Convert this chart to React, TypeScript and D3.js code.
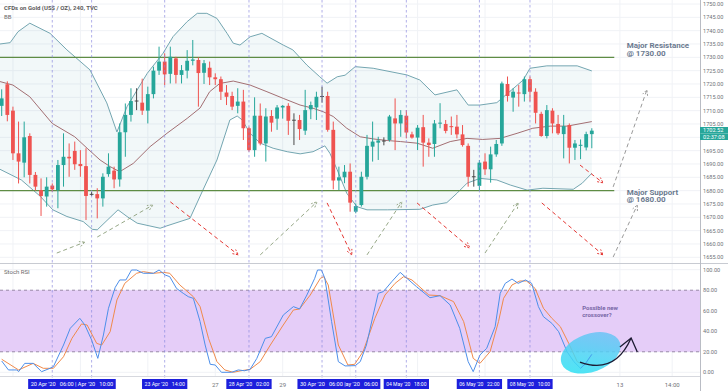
import React from 'react'
import * as d3 from 'd3'

const title = 'CFDs on Gold (US$ / OZ), 240, TVC'
const lastPrice = '1702.52'
const countdown = '02:37:08'

// 4h candles, [open, high, low, close]
const ohlc: number[][] = [
  [1711.8, 1718, 1708, 1714.6], [1719.9, 1721, 1706, 1708.4], [1710, 1711.5, 1691.5, 1694], [1694, 1705.9, 1682.7, 1690.9],
  [1690.5, 1705.9, 1685, 1700], [1700.5, 1701.5, 1682.7, 1685.9], [1685.9, 1687, 1680, 1681.5], [1680.2, 1684.6, 1670.5, 1678],
  [1677.8, 1685, 1674, 1681.5], [1681.9, 1682.7, 1679.6, 1680.5], [1680.2, 1691.5, 1673.4, 1689.6], [1689.6, 1701.5, 1681.5, 1692.7],
  [1692.7, 1697.7, 1685.2, 1692.1], [1694.9, 1698.4, 1687.8, 1689.9], [1690, 1695.2, 1685.2, 1689.2], [1689.2, 1695.9, 1669, 1678],
  [1678.7, 1679.5, 1678, 1678.8], [1678.7, 1680.9, 1669.6, 1677.1], [1677.1, 1686.5, 1674, 1685.2], [1686.2, 1694, 1685.2, 1689],
  [1687.5, 1689, 1680.9, 1684.2], [1684.2, 1705.2, 1681.5, 1701.9], [1701.9, 1712.7, 1692.7, 1708.4], [1708.4, 1718.4, 1705.9, 1713.6],
  [1713.7, 1718.4, 1710.2, 1713.8], [1713, 1722, 1708.4, 1710], [1710, 1719, 1705.2, 1716.2], [1716.2, 1726.5, 1714.6, 1725],
  [1725, 1734, 1723.4, 1728.4], [1728.4, 1731.5, 1719.6, 1723.6], [1723.8, 1734, 1720.2, 1730.2], [1729.6, 1730.2, 1720.2, 1723.4],
  [1723.4, 1727.1, 1720.2, 1725.2], [1725, 1732.7, 1722.1, 1728.7], [1728.7, 1736.5, 1727, 1729.2], [1729, 1730, 1711.5, 1724.1],
  [1724.2, 1729, 1720, 1727.8], [1726.1, 1728.4, 1719.6, 1722.5], [1722.5, 1724, 1719.6, 1721.8], [1721.8, 1722.8, 1714, 1717.1],
  [1716.8, 1719.6, 1712.1, 1715.2], [1715.5, 1717.1, 1710.2, 1711.5], [1711.8, 1718.4, 1709, 1713.4], [1713.4, 1717.8, 1699, 1703.4],
  [1703.4, 1704, 1694.6, 1695.2], [1695.2, 1715, 1692.7, 1708.1], [1708.1, 1712.7, 1697, 1697.7], [1697.7, 1710.9, 1690.9, 1707.8],
  [1708, 1710.2, 1702.1, 1705.5], [1707, 1712.1, 1702.8, 1711.2], [1711.2, 1712.1, 1707, 1711.8], [1711.8, 1712.8, 1700.9, 1706.2],
  [1706.5, 1709, 1697.1, 1706.6], [1706.5, 1708.4, 1699, 1703.1], [1702.5, 1717.8, 1700.9, 1710.2], [1710.5, 1713.4, 1706.8, 1712.1],
  [1711.2, 1717.1, 1706.5, 1715.2], [1715.5, 1719, 1713, 1715.5], [1715.5, 1717.1, 1702.1, 1702.8], [1702.8, 1705.9, 1680.5, 1683.8],
  [1683.8, 1689, 1680.2, 1685], [1685, 1689.6, 1682.8, 1687.1], [1687.1, 1690.2, 1672.1, 1675.5], [1672.1, 1675.2, 1671.5, 1674.2],
  [1674.6, 1687.1, 1674, 1685.2], [1685.2, 1700.9, 1684.2, 1696.8], [1696.5, 1705.9, 1690.9, 1698.4], [1698, 1700.2, 1691.5, 1698.8],
  [1698.8, 1700, 1697, 1698.6], [1699, 1708.4, 1698.4, 1707.8], [1707.1, 1714.6, 1695.2, 1705.2], [1705.2, 1710.2, 1700.2, 1708.4],
  [1708.1, 1710.2, 1699.6, 1701.8], [1701.1, 1702.1, 1699.5, 1699.9], [1699.9, 1704.6, 1695.2, 1703.6], [1703.8, 1708.4, 1689, 1698],
  [1698, 1699.6, 1692.7, 1697.1], [1697.5, 1706.5, 1692.7, 1705.2], [1705.2, 1712.8, 1703.4, 1705.5], [1705, 1706.5, 1701.5, 1702.4],
  [1704.2, 1707.8, 1700.9, 1703.8], [1704, 1708.4, 1699.6, 1701.1], [1701.1, 1704.6, 1696.5, 1697.1], [1696.8, 1697.7, 1681.5, 1685.2],
  [1685.2, 1687.8, 1681.5, 1685.4], [1681.8, 1691.5, 1680.2, 1690.5], [1690.9, 1694, 1685.9, 1688], [1688, 1696.5, 1683, 1693.6],
  [1693.6, 1699, 1692.7, 1697.5], [1697.7, 1720.9, 1696.8, 1720.2], [1720, 1722.8, 1713.4, 1715.5], [1714.9, 1718.4, 1709.6, 1717.1],
  [1716.8, 1719.6, 1711.5, 1716.5], [1716.2, 1722.8, 1713.4, 1721.8], [1721.8, 1722.8, 1713.4, 1717.1], [1717.1, 1718.4, 1705.2, 1709.2],
  [1708.8, 1709.6, 1700.2, 1700.5], [1700.5, 1712.1, 1699.6, 1710.2], [1710, 1710.9, 1701.5, 1705.2], [1705, 1708.4, 1700.9, 1701.5],
  [1701.2, 1708.4, 1692.1, 1704.2], [1704.6, 1705.2, 1690.2, 1696.1], [1696.1, 1699, 1691.5, 1697.7], [1696.8, 1699.2, 1691.8, 1697.2],
  [1696.2, 1702.1, 1695.1, 1701.2], [1701.2, 1703.4, 1695.9, 1702.5],
]

// Bollinger bands read as [bar index, price]
const bbUpper = [
  [-0.3, 1735], [1.5, 1735.5], [2.9, 1739.6], [5, 1742.8], [8.6, 1739], [11.6, 1732.8], [15.7, 1725.3], [18.7, 1712.9],
  [20.5, 1702], [22.3, 1711.5], [25.9, 1724], [28.7, 1731.5], [30.5, 1737.8], [33, 1743.4], [34.8, 1746.5], [36.5, 1746.5],
  [38.3, 1744.6], [40.1, 1739], [41.2, 1735.3], [42.4, 1734.6], [44.2, 1737.7], [46.3, 1739], [50.1, 1734.6], [51.8, 1732.8],
  [54.3, 1727.1], [56.6, 1722.7], [57.9, 1720.3], [59.7, 1722.7], [61.1, 1723.3], [62.9, 1726.5], [66.1, 1725.9], [72.1, 1723.4],
  [74.4, 1721.5], [77.1, 1715.9], [81, 1717.8], [83, 1712.1], [85.1, 1712.1], [88.1, 1713], [92.8, 1721.5], [94, 1725.9],
  [97, 1726.8], [102.4, 1726.8], [105, 1724.9],
]
const bbMiddle = [
  [-0.3, 1720.9], [2, 1719.6], [5, 1715.2], [9, 1705.2], [13, 1700.2], [15.2, 1695.9], [17.5, 1691.5], [19.3, 1689],
  [21, 1687.1], [23.4, 1690.2], [26.4, 1696.5], [29.4, 1701.5], [33, 1707.1], [35.3, 1711], [37, 1717.1], [38.8, 1720.2],
  [41.2, 1721.1], [44.2, 1719.6], [47.2, 1717.1], [50.1, 1714.6], [53.1, 1712.1], [55.4, 1710.9], [57.2, 1709.6], [59, 1707.8],
  [61.4, 1703.4], [63.8, 1700.2], [66.1, 1699.4], [68.6, 1698.8], [71, 1698.4], [73.9, 1697.8], [76.7, 1695.9], [79.8, 1698.4],
  [82.8, 1699.6], [85.6, 1699.2], [88.7, 1699.6], [91.7, 1701.5], [94.5, 1703.4], [97.6, 1704.2], [100.6, 1704.2], [105, 1705.9],
]
const bbLower = [
  [-0.3, 1688], [3.5, 1684], [6.8, 1678], [9.1, 1672.8], [11.6, 1670.3], [14.5, 1668.4], [16.1, 1665.5], [17, 1665.3],
  [20.7, 1672.8], [22.3, 1670.3], [24.1, 1667.8], [28.2, 1665.9], [29.4, 1666.8], [33.5, 1669.6], [35.8, 1680.2], [38.3, 1691.5],
  [40.6, 1706.5], [41.9, 1708], [42.8, 1706.5], [44.2, 1701.5], [46, 1697.8], [48.3, 1695.9], [50.8, 1694.6], [53.1, 1693.8],
  [55.4, 1694.6], [57.5, 1696.8], [58.4, 1694], [59.7, 1687.8], [61.4, 1679], [63.2, 1674], [65, 1672.8], [68.6, 1672.8],
  [74.4, 1673], [76.7, 1674.6], [79.2, 1675.5], [81, 1679], [82.8, 1682.8], [85.1, 1684.6], [88.1, 1684], [90.5, 1682.1],
  [93.5, 1680.2], [96.3, 1680.9], [101.7, 1680.5], [103.3, 1682.8], [105, 1686.5],
]

// Stoch RSI read as [bar index, value]
const stochK = [
  [0, 11], [1.2, 2.3], [2.7, 2.3], [3, 0.6], [4.1, 8.7], [5.6, 8.7], [7.1, 0.6], [8.6, 3.9], [9.2, 5.5], [11, 26.6],
  [12.2, 42.9], [13.9, 52.6], [14.8, 46.1], [16, 31.5], [17.1, 13.6], [18.1, 36.4], [19, 62.4], [20.2, 82.8], [21, 90],
  [22.1, 90], [23.1, 99.7], [24, 99.7], [25.2, 96.5], [27, 96.5], [28, 99.7], [29.1, 94.8], [29.9, 93.2], [31.1, 81.8],
  [32.3, 77], [33.2, 73.7], [34.1, 72.1], [35.3, 49.4], [36.2, 26.6], [37.1, 7.8], [38, 7.1], [39.1, 0], [40.9, 0],
  [42.1, 2.3], [43.2, 1.5], [44.2, 2.9], [45.4, 13.6], [46.9, 33.1], [48, 34.7], [50.1, 55.8], [51.9, 64], [53, 61.7],
  [54.3, 75.3], [55.7, 91.6], [56.2, 99.7], [56.9, 99.7], [57.5, 91.6], [58.7, 49.4], [59.9, 10.4], [61.1, 6.2], [62.9, 6.5],
  [63.8, 10.4], [64.9, 26.6], [66.1, 55.8], [67, 77], [67.9, 78.6], [69.4, 88.3], [70.9, 97.4], [72.1, 91.6], [73.8, 83.5],
  [76.2, 72.7], [78, 74.7], [79.8, 65.6], [81.5, 42.9], [83, 10.4], [83.9, 0.6], [85.1, 16.9], [86.3, 23.4], [87.8, 44.5],
  [88.7, 77], [89.6, 86.7], [90.8, 90.9], [91.9, 86.7], [93.2, 90], [94.3, 86.7], [95.5, 64], [96.4, 54.2], [97.9, 47.7],
  [99.1, 39.6], [100.6, 20.1], [101.8, 10.4], [103, 3.9], [103.9, 8.7], [105, 17.5],
]
const stochD = [
  [0, 12.7], [3, 2.3], [5.6, 8.7], [7.4, 3.9], [9.2, 3.9], [11, 15.2], [12.5, 33.1], [14.2, 47.1], [15.2, 46.1],
  [16.9, 28.2], [17.8, 26.6], [19.3, 39.6], [20.5, 70.5], [21.9, 86.7], [24, 96.5], [25.2, 98.1], [27, 96.5], [28.8, 97.4],
  [29.9, 96.5], [31.7, 85.1], [34.1, 73.7], [35.3, 64], [36.8, 33.1], [38.3, 10.4], [39.7, 2.3], [41.2, 0], [42.4, 1.3],
  [44.2, 2.9], [46, 10.4], [47.8, 26.6], [50.1, 46.1], [51.9, 60.7], [53, 61.7], [54.9, 75.3], [56.7, 91.6], [57.3, 93.2],
  [58.1, 85.1], [59.9, 26.6], [61.6, 7.1], [62.8, 7.8], [64.3, 20.1], [66.4, 52.6], [68.2, 75.3], [70, 86.7], [71.5, 93.2],
  [73, 90], [76, 75.3], [78, 74.7], [80.4, 68.9], [82.2, 49.4], [83.9, 13.6], [85.1, 8.7], [86.9, 20.1], [88.4, 49.4],
  [89.3, 72.1], [90.8, 85.1], [92.2, 89], [93.4, 89], [94.9, 81.8], [96.4, 62.4], [97.9, 52.6], [99.4, 44.5], [100.9, 28.2],
  [102.4, 10.4], [103.6, 7.1], [104.5, 8.7],
]

const priceTicks = [1750, 1745, 1740, 1735, 1730, 1725, 1720, 1715, 1710, 1705, 1700, 1695, 1690, 1685, 1680, 1675, 1670, 1665, 1660, 1655]
const stochTicks = [100, 80, 60, 40, 20, 0]
const levels = [
  { price: 1730, lines: ['Major Resistance', '@ 1730.00'] },
  { price: 1680, lines: ['Major Support', '@ 1680.00'] },
]
const markerBars = [9, 16, 29, 44, 57, 63, 72, 85, 94]
const timeBoxes = [
  { at: [9, 16], text: "20 Apr '20   06:00 | Apr '20   10:00" },
  { at: [29], text: "23 Apr '20   14:00" },
  { at: [44], text: "28 Apr '20   02:00" },
  { at: [57, 63], text: "30 Apr '20   06:00 |ay '20   06:00" },
  { at: [72], text: "04 May '20   18:00" },
  { at: [85], text: "06 May '20   22:00" },
  { at: [94], text: "08 May '20   10:00" },
]
const dayLabels = [
  { at: 38, text: '27' },
  { at: 50, text: '29' },
  { at: 110, text: '13' },
  { at: 119.3, text: '14:00' },
]
const gridBars = [2, 14, 26, 38, 50, 62, 74, 86, 98, 110, 119.3]
// drawn arrows: [bar, price, bar, price, kind]
const arrows: [number, number, number, number, string][] = [
  [9.8, 1656.6, 14.8, 1660.7, 'up'],
  [17, 1662.6, 26.9, 1674.6, 'up'],
  [30, 1675.8, 42.1, 1655.9, 'down'],
  [46, 1655.9, 56.1, 1675.8, 'up'],
  [57.9, 1675.4, 62.3, 1655.9, 'down'],
  [65, 1655.9, 71.2, 1675.8, 'up'],
  [73.9, 1675.4, 83.3, 1658.5, 'down'],
  [86, 1656.6, 91.9, 1675.4, 'up'],
  [96.1, 1675.4, 107, 1655.9, 'down'],
  [102.9, 1689.6, 107, 1682.9, 'down'],
  [108.8, 1681.4, 114.8, 1717.8, 'future'],
  [108.8, 1655.1, 113.1, 1674.6, 'future'],
]
const arrowColors: Record<string, string> = { up: '#97a887', down: '#e53935', future: '#9a9a9a' }

const W = 728
const H = 391
const plotR = 700
const font = 'Roboto, "Liberation Sans", sans-serif'

export default function App() {
  const x = d3.scaleLinear().domain([0, 105]).range([1.7, 591.8])
  const yP = d3.scaleLinear().domain([1655, 1750]).range([257.3, 4])
  const yS = d3.scaleLinear().domain([0, 100]).range([372.3, 269.7])

  const pLine = d3.line<number[]>().x(d => x(d[0])).y(d => yP(d[1]))
  const sLine = d3.line<number[]>().x(d => x(d[0])).y(d => yS(d[1]))
  const bandPts = [...bbUpper, ...bbLower.slice().reverse()]
  const bandPath = pLine(bandPts) + 'Z'

  const bw = 3.8

  const arrowHead = (x1: number, y1: number, x2: number, y2: number) => {
    const a = Math.atan2(y2 - y1, x2 - x1)
    const L = 6
    const p1 = [x2 - L * Math.cos(a - 0.45), y2 - L * Math.sin(a - 0.45)]
    const p2 = [x2 - L * Math.cos(a + 0.45), y2 - L * Math.sin(a + 0.45)]
    return `M${p1[0]},${p1[1]}L${x2},${y2}L${p2[0]},${p2[1]}`
  }

  // possible crossover arrow in stoch pane
  const cs = [x(102.9), yS(10)]
  const cc = [x(109.1), yS(-2.6)]
  const ce = [x(112), yS(33.4)]

  return (
    <svg width={W} height={H} style={{ position: 'absolute', left: 0, top: 0, background: '#fff' }} fontFamily={font}>
      <defs>
        <clipPath id="pricePane"><rect x={0} y={0} width={plotR} height={263} /></clipPath>
        <clipPath id="stochPane"><rect x={0} y={263} width={plotR} height={113} /></clipPath>
        <linearGradient id="ell" x1="0" y1="1" x2="1" y2="0">
          <stop offset="0" stopColor="#22e6f2" />
          <stop offset="1" stopColor="#78bdf6" />
        </linearGradient>
      </defs>
      <rect x={0} y={0} width={W} height={H} fill="#fff" />

      {/* grids */}
      <g stroke="#f0f2f6" strokeWidth={1}>
        {priceTicks.map(t => <line key={t} x1={0} x2={plotR} y1={yP(t)} y2={yP(t)} />)}
        {stochTicks.map(t => <line key={'s' + t} x1={0} x2={plotR} y1={yS(t)} y2={yS(t)} />)}
        {gridBars.map(b => <line key={'g' + b} x1={x(b)} x2={x(b)} y1={0} y2={376} />)}
      </g>

      <g clipPath="url(#pricePane)">
        <path d={bandPath} fill="#4fa3b5" fillOpacity={0.075} />
        <path d={pLine(bbUpper) || ''} fill="none" stroke="#74a6b1" strokeWidth={1} />
        <path d={pLine(bbLower) || ''} fill="none" stroke="#74a6b1" strokeWidth={1} />
        <path d={pLine(bbMiddle) || ''} fill="none" stroke="#a36f73" strokeWidth={1} />

        {levels.map(l => (
          <line key={l.price} x1={0} x2={x(109)} y1={yP(l.price)} y2={yP(l.price)} stroke="#5e8c44" strokeWidth={1.3} />
        ))}

        {ohlc.map((c, i) => {
          const [o, h, l, cl] = c
          const doji = Math.abs(cl - o) < 0.25
          const col = doji ? '#4a4a4a' : cl >= o ? '#26a69a' : '#ef5350'
          const top = yP(Math.max(o, cl))
          const bh = Math.max(1, yP(Math.min(o, cl)) - top)
          return (
            <g key={i}>
              <line x1={x(i)} x2={x(i)} y1={yP(h)} y2={yP(l)} stroke={col} strokeWidth={1} />
              <rect x={x(i) - bw / 2} y={top} width={bw} height={bh} fill={col} />
            </g>
          )
        })}

        {arrows.map((a, k) => {
          const x1 = x(a[0]), y1 = yP(a[1]), x2 = x(a[2]), y2 = yP(a[3])
          const col = arrowColors[a[4]]
          return (
            <g key={k} stroke={col} fill="none" strokeWidth={1}>
              <line x1={x1} y1={y1} x2={x2} y2={y2} strokeDasharray="4 3" />
              <path d={arrowHead(x1, y1, x2, y2)} strokeDasharray="2 1.5" />
            </g>
          )
        })}
      </g>

      {levels.map(l => (
        <text key={'t' + l.price} x={x(111.2)} y={yP(l.price) - (l.price > 1700 ? 9 : -4)} fontSize={8} fontWeight="bold" fill="#6b7a8f">
          <tspan x={x(111.2)} dy={0}>{l.lines[0]}</tspan>
          <tspan x={x(111.2)} dy={7.5}>{l.lines[1]}</tspan>
        </text>
      ))}

      <text x={4} y={10} fontSize={6} fontWeight="bold" fill="#5a5a5a">{title}</text>
      <text x={4} y={19} fontSize={6} fill="#6a6a6a">BB</text>

      {/* pane separator */}
      <line x1={0} x2={W} y1={263.5} y2={263.5} stroke="#c8cbd2" strokeWidth={1} />

      {/* stoch pane */}
      <g clipPath="url(#stochPane)">
        <rect x={0} y={yS(80)} width={plotR} height={yS(20) - yS(80)} fill="#e5cdf8" />
        <line x1={0} x2={plotR} y1={yS(80)} y2={yS(80)} stroke="#9a8aaa" strokeDasharray="3 3" />
        <line x1={0} x2={plotR} y1={yS(20)} y2={yS(20)} stroke="#9a8aaa" strokeDasharray="3 3" />
        <path d={sLine(stochD) || ''} fill="none" stroke="#f08a4b" strokeWidth={1} />
        <path d={sLine(stochK) || ''} fill="none" stroke="#4d8fea" strokeWidth={1} />
        <ellipse cx={x(104.8)} cy={yS(19)} rx={31} ry={19} transform={`rotate(-20 ${x(104.8)} ${yS(19)})`} fill="url(#ell)" fillOpacity={0.85} />
        <path d={sLine(stochK.slice(-3)) || ''} fill="none" stroke="#4d8fea" strokeWidth={1} opacity={0.7} />
        <path d={`M${cs[0]},${cs[1]}Q${cc[0]},${cc[1]} ${ce[0]},${ce[1]}`} fill="none" stroke="#1d1b33" strokeWidth={1.3} />
        <path d={`M${x(110)},${yS(24.7)}L${ce[0]},${ce[1]}L${x(113.1)},${yS(19.8)}`} fill="none" stroke="#1d1b33" strokeWidth={1.3} />
      </g>
      <text x={4} y={274} fontSize={6} fill="#6a6a6a">Stoch RSI</text>
      <text fontSize={6} fontWeight="bold" fill="#7866a6">
        <tspan x={x(103.3)} y={309.5}>Possible new</tspan>
        <tspan x={x(103.3)} y={316.5}>crossover?</tspan>
      </text>

      {/* session markers */}
      <g stroke="#8c8ae0" strokeWidth={0.8} strokeDasharray="2.5 2.5" opacity={0.85}>
        {markerBars.map(b => <line key={b} x1={x(b)} x2={x(b)} y1={0} y2={378} />)}
      </g>

      {/* right axis */}
      <line x1={plotR + 0.5} x2={plotR + 0.5} y1={0} y2={H} stroke="#b9bcc4" />
      <line x1={0} x2={plotR} y1={376.5} y2={376.5} stroke="#d6d8de" />
      <g fontSize={5.6} fill="#6f7379">
        {priceTicks.map(t => <text key={t} x={703} y={yP(t) + 2}>{t.toFixed(2)}</text>)}
        {stochTicks.map(t => <text key={'s' + t} x={703} y={yS(t) + 2}>{t.toFixed(2)}</text>)}
      </g>
      <rect x={700} y={127} width={28} height={6.5} fill="#26a69a" />
      <text x={703} y={132} fontSize={5.6} fill="#fff">{lastPrice}</text>
      <rect x={700} y={133.5} width={28} height={6.5} fill="#26a69a" />
      <text x={703} y={138.5} fontSize={5.6} fill="#fff">{countdown}</text>

      {/* time axis */}
      <g fontSize={6} fill="#6f7379" textAnchor="middle">
        {dayLabels.map(d => <text key={d.text} x={x(d.at)} y={387}>{d.text}</text>)}
      </g>
      {timeBoxes.map(b => {
        const cx = d3.mean(b.at.map(a => x(a))) || 0
        const w = b.text.length * 2.35 + 3
        return (
          <g key={b.text}>
            <rect x={cx - w / 2} y={379} width={w} height={10} fill="#1d1fdc" />
            <text x={cx} y={386.3} fontSize={5.8} fill="#fff" textAnchor="middle" textLength={w - 5} lengthAdjust="spacingAndGlyphs" xmlSpace="preserve">{b.text}</text>
          </g>
        )
      })}
    </svg>
  )
}
